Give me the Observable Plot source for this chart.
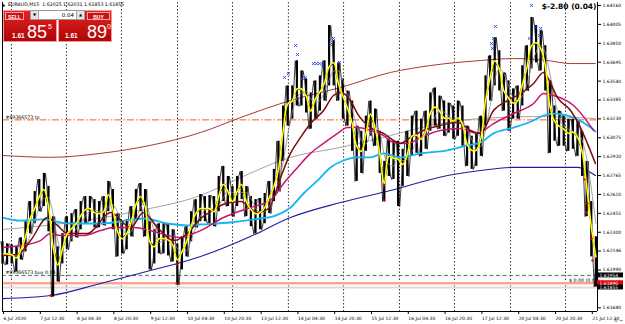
<!DOCTYPE html>
<html><head><meta charset="utf-8">
<script src="https://cdn.jsdelivr.net/npm/d3@7"></script>
<script src="https://cdn.jsdelivr.net/npm/@observablehq/plot@0.6"></script>
<style>
body{margin:0;background:#fff;}
#wrap{position:relative;width:625px;height:324px;overflow:hidden;font-family:"DejaVu Sans",sans-serif;}
#chart{position:absolute;left:0;top:0;}
.hdr{position:absolute;left:2px;top:1px;font-size:4.7px;line-height:7px;white-space:pre;color:#000;}
.blk{position:absolute;top:10px;width:54px;height:32px;background:linear-gradient(#e42222,#b00606);border:1px solid #f39a9a;box-sizing:border-box;}
.btn{position:absolute;top:1px;height:8px;border:1px solid #ffa0a0;background:#c81414;color:#fff;font-size:5px;font-weight:bold;line-height:8px;text-align:center;box-sizing:border-box;font-family:"Liberation Sans",Arial,sans-serif;}
.big{position:absolute;top:12px;color:#fff;font-size:18px;line-height:18px;font-family:"Liberation Sans",Arial,sans-serif;}
.sm{position:absolute;top:21px;color:#fff;font-size:6.5px;font-weight:bold;line-height:7px;font-family:"Liberation Sans",Arial,sans-serif;}
.sup{position:absolute;top:12px;color:#fff;font-size:7px;line-height:7px;font-family:"Liberation Sans",Arial,sans-serif;}
.lot{position:absolute;left:30px;top:10px;width:55px;height:10px;background:#fff;border:1px solid #9a9a9a;box-sizing:border-box;font-size:5.5px;line-height:8px;}
.arr{position:absolute;top:0;width:7px;height:8px;background:#e4e4e4;border-right:1px solid #aaa;font-size:4px;line-height:8px;text-align:center;color:#000;}
</style></head><body>
<div id="wrap"><div id="chart"></div></div>
<script>
// ---- price bars, one every 2 trading hours from 6 Jul 20:30 ----
const closes = [1.62131,1.62131,1.62123,1.62098,1.62164,1.62271,1.62420,1.62502,1.62601,1.62659,
1.62519,1.62189,1.62040,1.62164,1.62288,1.62337,1.62378,1.62444,1.62494,1.62502,
1.62469,1.62461,1.62477,1.62618,1.62494,1.62312,1.62255,1.62296,1.62395,1.62535,
1.62601,1.62519,1.62230,1.62189,1.62255,1.62255,1.62246,1.62205,1.62081,1.62147,
1.62230,1.62354,1.62461,1.62502,1.62502,1.62502,1.62477,1.62601,1.62700,1.62642,
1.62560,1.62642,1.62700,1.62560,1.62494,1.62461,1.62469,1.62510,1.62593,1.62684,
1.62824,1.63137,1.63360,1.63385,1.63484,1.63484,1.63426,1.63302,1.63401,1.63459,
1.63533,1.63665,1.63698,1.63533,1.63426,1.63327,1.63203,1.63014,1.62972,1.63113,
1.63278,1.63162,1.62956,1.62708,1.62931,1.62915,1.62906,1.62865,1.62948,1.63096,
1.63104,1.63071,1.63137,1.63286,1.63335,1.63302,1.63245,1.63245,1.63220,1.63245,
1.63195,1.63030,1.62981,1.62981,1.63080,1.63385,1.63575,1.63715,1.63649,1.63467,
1.63410,1.63368,1.63385,1.63517,1.63657,1.63839,1.63863,1.63814,1.63674,1.63344,
1.63220,1.63179,1.63154,1.63121,1.63129,1.63088,1.62972,1.62684,1.62354,1.62106];
const highs = [1.62230,1.62213,1.62205,1.62189,1.62263,1.62395,1.62560,1.62642,1.62741,1.62791,
1.62684,1.62436,1.62189,1.62296,1.62436,1.62461,1.62494,1.62560,1.62601,1.62601,
1.62576,1.62560,1.62601,1.62725,1.62659,1.62461,1.62378,1.62411,1.62519,1.62659,
1.62708,1.62659,1.62395,1.62329,1.62378,1.62378,1.62378,1.62329,1.62213,1.62271,
1.62354,1.62477,1.62576,1.62618,1.62601,1.62609,1.62601,1.62766,1.62849,1.62766,
1.62684,1.62766,1.62807,1.62684,1.62601,1.62576,1.62585,1.62626,1.62725,1.62824,
1.63055,1.63344,1.63509,1.63509,1.63715,1.63632,1.63566,1.63451,1.63550,1.63591,
1.63715,1.64004,1.63880,1.63698,1.63566,1.63467,1.63385,1.63179,1.63137,1.63261,
1.63385,1.63319,1.63137,1.62890,1.63071,1.63055,1.63055,1.62989,1.63137,1.63261,
1.63302,1.63236,1.63302,1.63451,1.63492,1.63426,1.63385,1.63368,1.63344,1.63385,
1.63344,1.63179,1.63096,1.63121,1.63261,1.63591,1.63756,1.63905,1.63797,1.63616,
1.63550,1.63484,1.63509,1.63674,1.63839,1.64070,1.64004,1.63962,1.63839,1.63550,
1.63344,1.63302,1.63261,1.63236,1.63236,1.63220,1.63137,1.62890,1.62560,1.62271];
const lows = [1.62048,1.62040,1.62048,1.61982,1.62081,1.62147,1.62296,1.62378,1.62477,1.62519,
1.62312,1.61776,1.61900,1.62048,1.62164,1.62230,1.62263,1.62329,1.62378,1.62395,
1.62345,1.62345,1.62362,1.62477,1.62329,1.62106,1.62131,1.62164,1.62271,1.62411,
1.62477,1.62271,1.61999,1.62048,1.62131,1.62131,1.62114,1.62065,1.61875,1.61999,
1.62106,1.62230,1.62345,1.62395,1.62395,1.62378,1.62354,1.62477,1.62560,1.62519,
1.62436,1.62519,1.62576,1.62436,1.62354,1.62296,1.62329,1.62378,1.62461,1.62560,
1.62642,1.62890,1.63179,1.63236,1.63344,1.63344,1.63286,1.63154,1.63236,1.63302,
1.63385,1.63509,1.63509,1.63385,1.63236,1.63179,1.62972,1.62725,1.62791,1.62972,
1.63096,1.63014,1.62791,1.62560,1.62766,1.62741,1.62519,1.62684,1.62766,1.62931,
1.62956,1.62931,1.62989,1.63137,1.63179,1.63154,1.63096,1.63121,1.63071,1.63096,
1.63014,1.62849,1.62824,1.62849,1.62931,1.63179,1.63385,1.63509,1.63467,1.63302,
1.63137,1.63236,1.63236,1.63344,1.63467,1.63649,1.63698,1.63632,1.63467,1.62956,
1.63055,1.63014,1.63014,1.62972,1.62989,1.62931,1.62766,1.62436,1.62106,1.61859];

// ---- indicator lines (hour, price) ----
const maroonH = [0,6.5,12.2,19.6,23.9,28.3,37,47,55.7,61.3,67.4,74.3,80.4,86.1,91.3,97,103.5,110.9,115.7,120.9,125.2,129.6,133.9,139.6,143.9,147,151.3,154.3,160,165.7,173,177.4,183,190.4,197.8,203.5,207.8,213.5,219.6,225.2,230.9,235.2,237,241.3,247,251.3,254.3,257.8];
const maroonP = [1.62117,1.62125,1.62240,1.62429,1.62364,1.62298,1.62298,1.62470,1.62347,1.62470,1.62347,1.62240,1.62298,1.62421,1.62487,1.62544,1.62560,1.62470,1.62503,1.62757,1.62955,1.63086,1.63200,1.63307,1.63430,1.63455,1.63389,1.63282,1.63167,1.63119,1.63037,1.63086,1.63143,1.63184,1.63208,1.63143,1.63119,1.63307,1.63389,1.63446,1.63528,1.63619,1.63578,1.63413,1.63307,1.63167,1.63037,1.62872];
const magentaH = [0,7.8,16.5,20.9,25.2,35.2,42.6,48.3,57,64.3,71.7,77.4,83,86.1,96.1,107.8,116.5,122.2,128.3,133.9,139.6,145.7,150,154.3,160,165.7,170,176.1,181.7,190.4,199.1,206.5,213.5,222.2,230.9,235.2,239.6,248.3,257];
const magentaP = [1.62183,1.62199,1.62240,1.62298,1.62282,1.62282,1.62322,1.62347,1.62347,1.62322,1.62282,1.62265,1.62298,1.62322,1.62429,1.62511,1.62569,1.62708,1.62840,1.62955,1.63037,1.63119,1.63167,1.63167,1.63143,1.63102,1.63045,1.63037,1.63086,1.63143,1.63159,1.63119,1.63200,1.63282,1.63364,1.63446,1.63430,1.63348,1.63143];
const skyH = [0,7.8,17.8,28.3,42.6,57,61.3,71.7,80.4,86.1,99.1,112.2,117.4,125.2,130.9,137,142.6,148.3,154.3,160,165.7,173,181.7,193.5,202.2,207.8,213.5,222.2,230.9,235.2,239.6,248.3,255.7,257.8];
const skyP = [1.62429,1.62404,1.62413,1.62380,1.62380,1.62413,1.62421,1.62380,1.62364,1.62372,1.62388,1.62421,1.62437,1.62511,1.62626,1.62733,1.62840,1.62897,1.62923,1.62923,1.62955,1.62923,1.62955,1.62980,1.63021,1.63045,1.63119,1.63167,1.63225,1.63266,1.63282,1.63249,1.63167,1.63135];
const navyH = [0,20.9,42.6,64.3,76.1,86.1,107.8,125.2,147,168.7,193.5,207.8,222.2,237,250,255.7,257.8];
const navyP = [1.61764,1.61789,1.61888,1.61994,1.62052,1.62109,1.62273,1.62429,1.62552,1.62651,1.62774,1.62815,1.62840,1.62840,1.62840,1.62798,1.62774];
const brownH = [0,20.9,42.6,64.3,86.1,103.5,125.2,147,168.7,186.1,207.8,222.2,237,247,257.8];
const brownP = [1.62938,1.62923,1.62955,1.63021,1.63126,1.63249,1.63389,1.63496,1.63619,1.63676,1.63717,1.63733,1.63717,1.63692,1.63692];
const greyH = [0,29.6,60,86.1,103.5,125.2,147,168.7,186.1,207.8,233.9,257.8];
const greyP = [1.62331,1.62388,1.62487,1.62610,1.62757,1.62923,1.63004,1.63102,1.63184,1.63241,1.63257,1.63241];

// ---- markers ----
const blueH = [122.6,124.3,127.4,128.3,130.4,131.7,135.2,136.5,137.8,139.1,142.6,143.9,146.5,212.6,213.0,213.5,214.3,229.1,230.0,231.7,233.5,234.0];
const blueP = [1.63578,1.63610,1.63840,1.63766,1.63569,1.63578,1.63692,1.63692,1.63692,1.63684,1.63848,1.63898,1.63701,1.63856,1.63815,1.63898,1.63996,1.63898,1.64168,1.63988,1.63922,1.63980];
const redH = [20.9,75.7,75.7,165.7,166.1,253.0,254.3,253.9,256.1,256.5];
const redP = [1.61789,1.61888,1.62046,1.62692,1.62569,1.62741,1.62544,1.62470,1.62257,1.62076];

// ---- levels and labels ----
const levelNames = ["#89366573 tp", "#89366573 buy 0.04"];
const levelPrices = [1.63230, 1.61954];
const askPrice = 1.61890, bidPrice = 1.61855;
const boxPrices = [1.61954, 1.61890, 1.61855];
const boxColors = ["#000000", "#e00000", "#000000"];
const profitText = "$-2.80 (0.04)";
const lineProfitText = "$ 0.00 (0.00)";
const lineProfitPrice = 1.61914;

const xTickHours = [0,16,32,48,64,80,96,112,128,144,160,176,192,208,224,240,256];
const xTickLabels = ["6 Jul 2020","7 Jul 12:30","8 Jul 04:30","8 Jul 20:30","9 Jul 12:30","10 Jul 04:30","10 Jul 20:30","13 Jul 12:30","14 Jul 04:30","14 Jul 20:30","15 Jul 12:30","16 Jul 04:30","16 Jul 20:30","17 Jul 12:30","20 Jul 04:30","20 Jul 20:30","21 Jul 12:30"];
const gridHours = [3.9,27.8,51.7,76.1,100,124.3,148.3,172.6,196.5,220.9,244.8];
const yTickVals = [1.64160,1.64005,1.63850,1.63695,1.63540,1.63385,1.63230,1.63075,1.62920,1.62765,1.62610,1.62455,1.62300,1.62146,1.61990,1.61680];
const yTickLabels = ["1.64160","1.64005","1.63850","1.63695","1.63540","1.63385","1.63230","1.63075","1.62920","1.62765","1.62610","1.62455","1.62300","1.62146","1.61990","1.61680"];

const xMax = 258.7, yMin = 1.61658, yMax = 1.64193;

const bars = closes.map((c, i) => ({h: i * 2, c, hi: highs[i], lo: lows[i]}));
// jagged intrabar texture: each bar's high and low joined in alternating order
const zig = bars.flatMap((b, i) => i % 2
  ? [{h: b.h - 0.7, p: b.lo}, {h: b.h + 0.7, p: b.hi}]
  : [{h: b.h - 0.7, p: b.hi}, {h: b.h + 0.7, p: b.lo}]);
const pts = (H, P) => H.map((h, i) => ({h, p: P[i]}));
const xLab = new Map(xTickHours.map((h, i) => [h, xTickLabels[i]]));
const yLab = new Map(yTickVals.map((v, i) => [v, yTickLabels[i]]));
const levels = levelNames.map((t, i) => ({t, p: levelPrices[i]}));
const boxes = boxPrices.map((p, i) => ({p, f: boxColors[i], t: p.toFixed(5)}));

const chart = Plot.plot({
  width: 625, height: 324,
  marginLeft: 2, marginRight: 28, marginTop: 2, marginBottom: 13,
  style: {fontFamily: "DejaVu Sans, sans-serif", fontSize: "4.7px", background: "white", color: "black", overflow: "visible"},
  x: {domain: [0, xMax], axis: null},
  y: {domain: [yMin, yMax], axis: null},
  marks: [
    Plot.ruleX(gridHours, {stroke: "#000", strokeWidth: 0.8, strokeDasharray: "1.5,2"}),
    Plot.ruleY([bidPrice], {stroke: "#dcdcdc", strokeWidth: 2}),
    Plot.ruleY([askPrice], {stroke: "#ffa58c", strokeWidth: 2.5}),
    Plot.ruleY([levelPrices[1]], {stroke: "#3f6b3f", strokeWidth: 0.9, strokeDasharray: "4,2.5"}),
    Plot.ruleY([levelPrices[0]], {stroke: "#ff5a1e", strokeWidth: 1, strokeDasharray: "7,2,1.5,2"}),
    Plot.line(pts(brownH, brownP), {x: "h", y: "p", stroke: "#a83a38", strokeWidth: 1, curve: "monotone-x"}),
    Plot.line(pts(greyH, greyP), {x: "h", y: "p", stroke: "#9a9a9a", strokeWidth: 0.9, curve: "monotone-x"}),
    Plot.line(pts(navyH, navyP), {x: "h", y: "p", stroke: "#1e1e9e", strokeWidth: 1.1, curve: "monotone-x"}),
    Plot.ruleX(bars, {x: "h", y1: "lo", y2: "hi", stroke: "#000", strokeWidth: 2.2}),
    Plot.line(zig, {x: "h", y: "p", stroke: "#111", strokeWidth: 0.8}),
    Plot.line(bars, {x: "h", y: "c", stroke: "#000", strokeWidth: 1.2}),
    Plot.line(bars, Plot.windowY({k: 3, anchor: "end"}, {x: "h", y: "c", stroke: "#8c8c8c", strokeWidth: 0.8, curve: "monotone-x"})),
    Plot.line(pts(skyH, skyP), {x: "h", y: "p", stroke: "#16b4f0", strokeWidth: 1.8, curve: "monotone-x"}),
    Plot.line(pts(magentaH, magentaP), {x: "h", y: "p", stroke: "#c8146e", strokeWidth: 1.5, curve: "monotone-x"}),
    Plot.line(pts(maroonH, maroonP), {x: "h", y: "p", stroke: "#7a0c0c", strokeWidth: 1.5, curve: "monotone-x"}),
    Plot.line(bars, {x: "h", y: "c", stroke: "#ffff00", strokeWidth: 1.6, curve: "catmull-rom"}),
    Plot.dot(pts(blueH, blueP), {x: "h", y: "p", symbol: "times", r: 1.5, stroke: "#2244ff", strokeWidth: 0.9}),
    Plot.dot(pts(redH, redP), {x: "h", y: "p", r: 1.2, fill: "#ff0000"}),
    Plot.text(levels, {y: "p", text: "t", frameAnchor: "left", textAnchor: "start", dx: 3, dy: -2.6, fill: "#000"}),
    Plot.text([lineProfitText], {y: () => lineProfitPrice, text: d => d, frameAnchor: "right", textAnchor: "end", dx: 2, fill: "#000"}),
    Plot.text([profitText], {text: d => d, frameAnchor: "top-right", textAnchor: "end", dx: -1, dy: 1, fontWeight: "bold", fontSize: 7.5, fill: "#000"}),
    Plot.ruleX([0], {stroke: "#000", strokeWidth: 1}),
    Plot.ruleX([xMax], {stroke: "#000", strokeWidth: 1}),
    Plot.ruleY([yMin], {stroke: "#000", strokeWidth: 1}),
    Plot.axisX({ticks: xTickHours, tickFormat: d => xLab.get(d), textAnchor: "start", tickSize: 3, tickPadding: 2.5, fontSize: 4.5, dx: 1}),
    Plot.axisY({anchor: "right", ticks: yTickVals, tickFormat: d => yLab.get(d), tickSize: 3, tickPadding: 2, fontSize: 4.5, dy: -1}),
    Plot.rect(boxes, {x1: () => xMax, x2: () => xMax + 11.3, y1: d => d.p - 0.0002, y2: d => d.p + 0.0002, fill: "f"}),
    Plot.text(boxes, {x: () => xMax, y: "p", text: "t", fill: "white", textAnchor: "start", dx: 2, fontSize: 4.5})
  ]
});
document.getElementById("chart").appendChild(chart);

// ---- header and one-click trading panel (overlay) ----
const wrap = document.getElementById("wrap");
const overlay = document.createElement("div");
overlay.innerHTML = `
<div class="hdr"><span style="font-size:4px">&#9650;</span>  EURAUD,M15  1.62025 1.62031 1.61853 1.61855</div>
<div class="blk" style="left:3px">
  <div class="btn" style="left:1px;width:19px">SELL</div>
  <span class="sm" style="left:8px">1.61</span>
  <span class="big" style="left:23px">85</span>
  <span class="sup" style="left:44px">5</span>
</div>
<div class="blk" style="left:58px">
  <div class="btn" style="left:28px;width:23px">BUY</div>
  <span class="sm" style="left:6px">1.61</span>
  <span class="big" style="left:28px">89</span>
  <span class="sup" style="left:48px">0</span>
</div>
<div class="lot">
  <div class="arr" style="left:0">&#9660;</div>
  <span style="position:absolute;right:10px;top:0">0.04</span>
  <div class="arr" style="right:0;border-right:none;border-left:1px solid #aaa">&#9650;</div>
</div>`;
wrap.appendChild(overlay);
</script>
</body></html>
